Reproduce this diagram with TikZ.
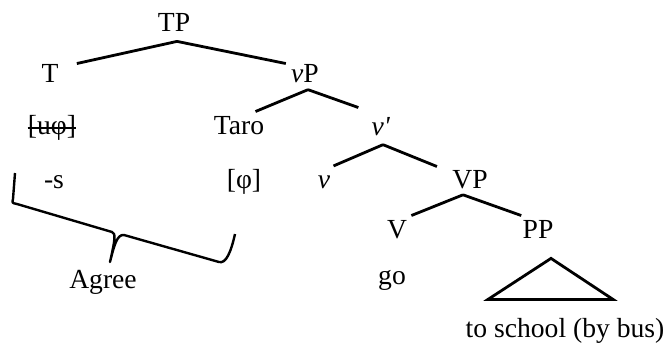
\documentclass[tikz,border=0pt]{standalone}
\usepackage{fontspec}
\setmainfont{Liberation Serif}

\begin{document}
\begin{tikzpicture}[x=0.5pt,y=-0.5pt,
    every node/.style={font=\fontsize{13.8}{16}\selectfont, inner sep=0pt, anchor=base},
    branch/.style={black, line width=1.4pt},
    braceline/.style={black, line width=1.2pt, line join=round}]
    \useasboundingbox (0,0) rectangle (667,347);
    \node (TP) at (174,32) {TP};
    \node (T) at (50,83) {T};
    \node (vP) at (305,83) {\textit{v}P};
    \node (uphi) at (52,135) {[uφ]};
    \node (Taro) at (239,135) {Taro};
    \node (vbar) at (381,136) {\textit{v\textquotesingle}};
    \node (s) at (54,188) {-s};
    \node (phi) at (244,188) {[φ]};
    \node (v) at (324,188) {\textit{v}};
    \node (VP) at (470,188) {VP};
    \node (V) at (397,238) {V};
    \node (PP) at (538,238) {PP};
    \node (go) at (392,284) {go};
    \node (agree) at (103,288) {Agree};
    \node (school) at (565,337) {to school (by bus)};

    \path[branch]
    ([shift={(3,9)}]TP.south) edge ([shift={(18,-1)}]T.north east)
    ([shift={(3,9)}]TP.south) edge ([shift={(-5,-1)}]vP.north west)
    ([shift={(3,6)}]vP.south) edge ([shift={(-9,-5)}]Taro.north east)
    ([shift={(3,6)}]vP.south) edge ([shift={(-13,-10)}]vbar.north west)
    ([shift={(2,8)}]vbar.south) edge ([shift={(3,-9)}]v.north east)
    ([shift={(2,8)}]vbar.south) edge ([shift={(-15,-3)}]VP.north west)
    ([shift={(-7,6)}]VP.south) edge ([shift={(4,-4)}]V.north east)
    ([shift={(-7,6)}]VP.south) edge ([shift={(-1,-4)}]PP.north west);

    % triangle under PP
    \draw[branch, line join=miter] ([shift={(13,20)}]PP.south) -- ++(-63,41) -- ++(125,0) -- cycle;
    % struck-out feature
    \draw[line width=1pt] (uphi.west) -- (uphi.east);
    % Agree brace
    \draw[braceline] (15,173) -- (13,199) .. controls (12,203) .. (17,204) -- (112,232)
      .. controls (116,233) and (115,240) .. (110,262)
      .. controls (114,246) and (117,234) .. (124,235) -- (219,262)
      .. controls (226,264) and (231,252) .. (235,234);
\end{tikzpicture}
\end{document}
